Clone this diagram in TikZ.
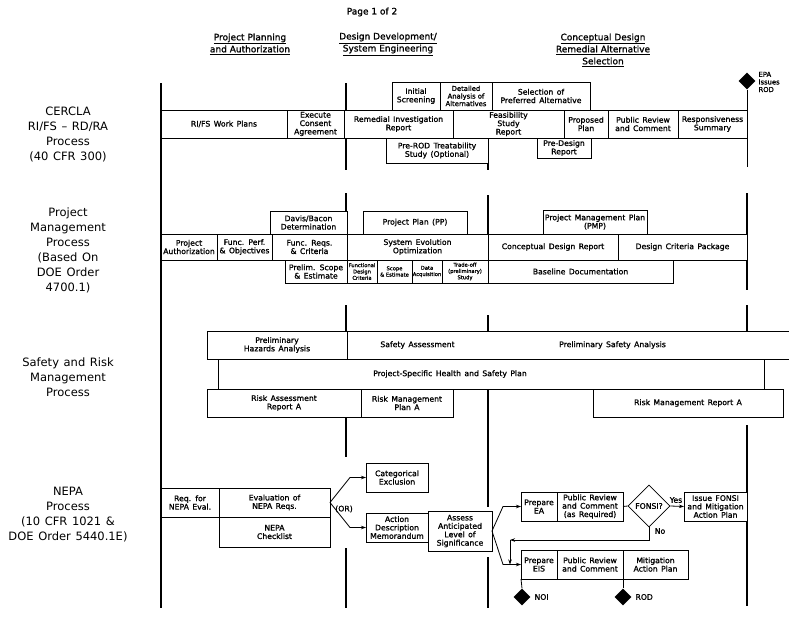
\documentclass[tikz,border=0pt]{standalone}
\usepackage{fontspec}
\setmainfont{DejaVu Sans}
\newfontface\bxface{DejaVu Sans}[FakeBold=1.2]
\usetikzlibrary{shapes.geometric,arrows.meta}
\newcommand\bxfont{\bxface\fontsize{7.7}{8.4}\selectfont\spaceskip=3.4pt\relax}
\newcommand\smfont{\bxface\fontsize{6.8}{7.6}\selectfont}
\newcommand\tnfont{\bxface\fontsize{5.2}{6.3}\selectfont}
\newcommand\labfont{\fontsize{11.5}{15}\selectfont\spaceskip=4.6pt\relax}
\newcommand\hdrfont{\bxface\fontsize{9}{12}\selectfont}
\newcommand\bx[7][]{\node[box,#1,minimum width={(#5-#3)*1pt},minimum height={(#6-#4)*1pt},anchor=north west] (#2) at (#3,#4) {#7};}
\begin{document}
\begin{tikzpicture}[x=1pt,y=-1pt,
  box/.style={draw,fill=white,line width=0.8pt,inner sep=0pt,outer sep=0pt,align=center,font=\bxfont},
  vline/.style={line width=2.8pt},
  conn/.style={line width=0.8pt},
  arr/.style={conn,-{Stealth[length=5pt,width=3.5pt]}},
  blk/.style={diamond,fill=black,minimum width=17pt,minimum height=17pt,inner sep=0pt},
  lab/.style={font=\labfont,align=center},
  hdr/.style={font=\hdrfont,align=center},
  txt/.style={font=\bxfont}]
\useasboundingbox (0,0) rectangle (789,621);
% header
\node[hdr] (page) at (372,12) {Page 1 of 2};
\node[hdr] (hA) at (250,44) {\underline{Project Planning}\\\underline{and Authorization}};
\node[hdr] (hB) at (388,44) {\underline{Design Development/}\\\underline{System Engineering}};
\node[hdr] (hC) at (603,50) {\underline{Conceptual Design}\\\underline{Remedial Alternative}\\\underline{Selection}};
% left labels
\node[lab] (lA) at (68,134) {CERCLA\\RI/FS -- RD/RA\\Process\\(40 CFR 300)};
\node[lab] (lB) at (68,250.5) {Project\\Management\\Process\\(Based On\\DOE Order\\4700.1)};
\node[lab] (lC) at (68,377) {Safety and Risk\\Management\\Process};
\node[lab] (lD) at (68,514.5) {NEPA\\Process\\(10 CFR 1021 \&\\DOE Order 5440.1E)};
% timeline lines (under boxes)
\foreach \a/\b in {83/170,193/283,305/457,548/608} \draw[vline] (346,\a) -- (346,\b);
\foreach \a/\b in {163/170,195/283,315/507,557/608} \draw[vline] (488,\a) -- (488,\b);
\foreach \a/\b in {193/290,305/331,425/606} \draw[vline] (747,\a) -- (747,\b);
% CERCLA
\bx{iscr}{392}{82}{440}{110}{Initial\\Screening}
\bx[font=\smfont]{dana}{440}{82}{492}{110}{Detailed\\Analysis of\\Alternatives}
\bx{spa}{492}{82}{590}{110}{Selection of\\Preferred Alternative}
\bx{rifs}{161}{110}{287}{138}{RI/FS Work Plans}
\bx{eca}{287}{110}{344}{138}{Execute\\Consent\\Agreement}
\bx{rir}{344}{110}{453}{138}{Remedial Investigation\\Report}
\bx{fsr}{453}{110}{564}{138}{Feasibility\\Study\\Report}
\bx{ppl}{564}{110}{608}{138}{Proposed\\Plan}
\bx{prc}{608}{110}{678}{138}{Public Review\\and Comment}
\bx{rsum}{678}{110}{747}{138}{Responsiveness\\Summary}
\bx{prerod}{386}{138}{488}{163}{Pre-ROD Treatability\\Study (Optional)}
\bx{pdr}{537}{138}{591}{158}{Pre-Design\\Report}
\node[blk] (epa) at (747,81) {};
\node[anchor=west,font=\smfont,align=left] (epal) at (755,82) {EPA\\Issues\\ROD};
\draw[conn] (epa.south) -- (rsum.north east);
\draw[conn] (rsum.south east) -- ++(0,29);
% Project management
\bx{davis}{270}{211}{347}{234}{Davis/Bacon\\Determination}
\bx{pp}{363}{211}{467}{234}{Project Plan (PP)}
\bx{pmp}{543}{210}{647}{234}{Project Management Plan\\(PMP)}
\bx{pauth}{161}{234}{217}{260}{Project\\Authorization}
\bx{fpo}{217}{234}{272}{260}{Func. Perf.\\\& Objectives}
\bx{frc}{272}{234}{347}{260}{Func. Reqs.\\\& Criteria}
\bx{seo}{347}{234}{488}{260}{System Evolution\\Optimization}
\bx{cdr}{488}{234}{618}{260}{Conceptual Design Report}
\bx{dcp}{618}{234}{747}{260}{Design Criteria Package}
\bx{pse}{285}{260}{347}{283}{Prelim. Scope\\\& Estimate}
\bx[font=\tnfont]{fdc}{347}{260}{377}{283}{Functional\\Design\\Criteria}
\bx[font=\tnfont]{sce}{377}{260}{412}{283}{Scope\\\& Estimate}
\bx[font=\tnfont]{daq}{412}{260}{442}{283}{Data\\Acquisition}
\bx[font=\tnfont]{tos}{442}{260}{488}{283}{Trade-off\\(preliminary)\\Study}
\bx{bdoc}{488}{260}{673}{283}{Baseline Documentation}
% Safety
\bx{pshs}{218}{359}{764}{389}{Project-Specific Health and Safety Plan\hspace*{82pt}}
\bx{pha}{207}{331}{347}{359}{Preliminary\\Hazards Analysis}
\bx{sa}{347}{331}{488}{359}{Safety Assessment}
\bx[draw=none]{psa}{488}{331}{789}{359}{Preliminary Safety Analysis\hspace*{52pt}}
\draw[conn] (psa.north west) -- (psa.north east) (psa.south west) -- (psa.south east);
\bx{rar}{207}{389}{361}{417}{Risk Assessment\\Report A}
\bx{rmpa}{361}{389}{453}{417}{Risk Management\\Plan A}
\bx{rmra}{593}{389}{783}{417}{Risk Management Report A}
% NEPA
\bx{req}{161}{488}{219}{517}{Req. for\\NEPA Eval.}
\bx{eval}{219}{488}{330}{517}{Evaluation of\\NEPA Reqs.}
\bx{chk}{219}{517}{330}{547}{NEPA\\Checklist}
\bx{catex}{366}{463}{428}{492}{Categorical\\Exclusion}
\bx{adm}{366}{513}{428}{542}{Action\\Description\\Memorandum}
\bx{assess}{428}{511}{492}{551}{Assess\\Anticipated\\Level of\\Significance}
\bx{ea}{521}{492}{557}{521}{Prepare\\EA}
\bx{prc1}{557}{492}{623}{521}{Public Review\\and Comment\\(as Required)}
\node[diamond,draw,fill=white,line width=0.8pt,minimum width=42pt,minimum height=42pt,inner sep=0pt,font=\bxfont] (fonsi) at (649,506) {FONSI?};
\bx{issue}{684}{492}{747}{521}{Issue FONSI\\and Mitigation\\Action Plan}
\bx{eis}{521}{550}{557}{579}{Prepare\\EIS}
\bx{prc2}{557}{550}{623}{579}{Public Review\\and Comment}
\bx{map}{623}{550}{688}{579}{Mitigation\\Action Plan}
\node[blk] (noi) at (522,597) {};
\node[blk] (rodd) at (623,597) {};
\node[txt,anchor=west] (noil) at (531,597) {NOI};
\node[txt,anchor=west] (rodl) at (632,597) {ROD};
% connectors
\draw[arr] (eval.east) -- ++(20,-25) -- (catex.west);
\draw[arr] (eval.east) -- ++(20,25) -- (adm.west);
\node[txt] (ortx) at (344,509) {(OR)};
\draw[arr] (assess.east) -- ([xshift=-18pt]ea.west) -- (ea.west);
\draw[arr] (assess.east) -- ([xshift=-18pt]eis.west) -- (eis.west);
\draw[conn] (prc1.east) -- (fonsi.west);
\draw[arr] (fonsi.east) -- (issue.west);
\node[txt] (yes) at (676,500) {Yes};
\coordinate (nocorner) at ([xshift=-11pt]eis.west |- 0,540);
\draw[arr] (fonsi.south) |- (nocorner);
\draw[arr] (nocorner) -- ([xshift=-11pt]eis.west);
\node[txt] (no) at (660,531) {No};
\draw[conn] (eis.south west) -- (noi.north);
\draw[conn] (prc2.south east) -- (rodd.north);
% left timeline line on top
\draw[vline] (161,83) -- (161,608);
\end{tikzpicture}
\end{document}
